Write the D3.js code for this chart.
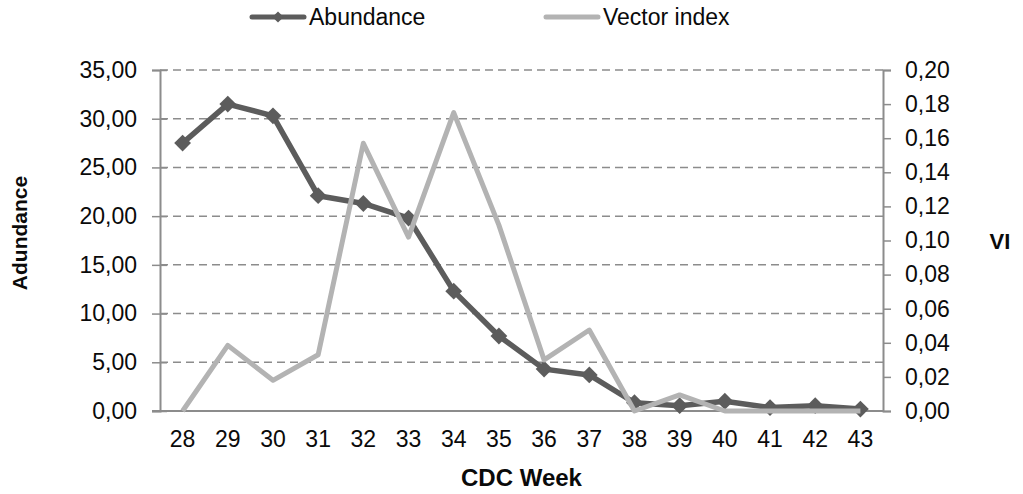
<!DOCTYPE html>
<html>
<head>
<meta charset="utf-8">
<script src="https://cdn.jsdelivr.net/npm/d3@7"></script>
<style>
  html, body { margin: 0; padding: 0; background: #fff; }
  svg { display: block; font-family: "Liberation Sans", Arial, sans-serif; }
</style>
</head>
<body>
<svg id="chart" width="1023" height="494"></svg>
<script>
// chart data
const weeks = ["28", "29", "30", "31", "32", "33", "34", "35", "36", "37", "38", "39", "40", "41", "42", "43"];
const abundance = [27.5, 31.5, 30.3, 22.1, 21.3, 19.8, 12.3, 7.7, 4.3, 3.7, 0.85, 0.55, 1.0, 0.35, 0.55, 0.2];
const vectorIndex = [0, 0.0385, 0.018, 0.033, 0.157, 0.102, 0.175, 0.109, 0.030, 0.0475, 0, 0.0094, 0, 0, 0, 0];
const leftTicks = [0, 5, 10, 15, 20, 25, 30, 35];
const rightTicks = [0, 0.02, 0.04, 0.06, 0.08, 0.10, 0.12, 0.14, 0.16, 0.18, 0.20];

const svg = d3.select("#chart");

const plotLeft = 160, plotRight = 883, plotTop = 70, plotBottom = 411;
const darkColor = "#5c5c5c";
const lightColor = "#b3b3b3";
const axisColor = "#8c8c8c";
const textColor = "#0a0a0a";

const x = d3.scaleBand().domain(weeks).range([plotLeft, plotRight]);
const yL = d3.scaleLinear().domain([0, 35]).range([plotBottom, plotTop]);
const yR = d3.scaleLinear().domain([0, 0.20]).range([plotBottom, plotTop]);
const cx = w => x(w) + x.bandwidth() / 2;

const comma = f => v => d3.format(f)(v).replace(".", ",");

// gridlines (dashed)
svg.append("g")
  .selectAll("line")
  .data(leftTicks.filter(t => t > 0))
  .enter()
  .append("line")
  .attr("x1", plotLeft)
  .attr("x2", plotRight)
  .attr("y1", d => yL(d))
  .attr("y2", d => yL(d))
  .attr("stroke", axisColor)
  .attr("stroke-width", 1.5)
  .attr("stroke-dasharray", "8,5");

// left axis
const gL = svg.append("g")
  .attr("transform", `translate(${plotLeft},0)`)
  .call(d3.axisLeft(yL).tickValues(leftTicks).tickSize(8).tickPadding(15).tickFormat(comma(".2f")));
// Excel-style crossing ticks
gL.selectAll(".tick line").attr("x1", 7);

// right axis
const gR = svg.append("g")
  .attr("transform", `translate(${plotRight},0)`)
  .call(d3.axisRight(yR).tickValues(rightTicks).tickSize(8).tickPadding(14).tickFormat(comma(".2f")));

// bottom axis
const gB = svg.append("g")
  .attr("transform", `translate(0,${plotBottom})`)
  .call(d3.axisBottom(x).tickSize(0).tickPadding(20));

[gL, gR, gB].forEach(g => {
  g.attr("font-family", null).attr("font-size", null);
  g.selectAll("path.domain").attr("stroke", axisColor).attr("stroke-width", 2);
  g.selectAll(".tick line").attr("stroke", axisColor).attr("stroke-width", 1.5);
  g.selectAll("text")
    .style("font-size", "23px")
    .attr("fill", textColor);
});
gB.select("path.domain").attr("d", `M${plotLeft - 8},0H${plotRight}`);

// abundance line
const lineL = d3.line()
  .x((d, i) => cx(weeks[i]))
  .y(d => yL(d));

svg.append("path")
  .datum(abundance)
  .attr("fill", "none")
  .attr("stroke", darkColor)
  .attr("stroke-width", 5.5)
  .attr("stroke-linejoin", "round")
  .attr("d", lineL);

const diamond = d3.symbol().type(d3.symbolDiamond2).size(180);

svg.append("g")
  .selectAll("path")
  .data(abundance)
  .enter()
  .append("path")
  .attr("transform", (d, i) => `translate(${cx(weeks[i])},${yL(d)})`)
  .attr("d", diamond)
  .attr("fill", darkColor);

// vector index line
const lineR = d3.line()
  .x((d, i) => cx(weeks[i]))
  .y(d => yR(d));

svg.append("path")
  .datum(vectorIndex)
  .attr("fill", "none")
  .attr("stroke", lightColor)
  .attr("stroke-width", 5)
  .attr("stroke-linejoin", "round")
  .attr("d", lineR);

// axis titles
svg.append("text")
  .attr("transform", "translate(27,233) rotate(-90)")
  .attr("text-anchor", "middle")
  .style("font-size", "21px")
  .attr("font-weight", "bold")
  .attr("fill", textColor)
  .text("Adundance");

svg.append("text")
  .attr("x", 1000)
  .attr("y", 249)
  .attr("text-anchor", "middle")
  .style("font-size", "22px")
  .attr("font-weight", "bold")
  .attr("fill", textColor)
  .text("VI");

svg.append("text")
  .attr("x", (plotLeft + plotRight) / 2)
  .attr("y", 486)
  .attr("text-anchor", "middle")
  .style("font-size", "24px")
  .attr("font-weight", "bold")
  .attr("fill", textColor)
  .text("CDC Week");

// legend
const legend = svg.append("g").attr("transform", "translate(0,17)");
const legendItems = [
  { name: "Abundance", color: darkColor, x: 252, marker: true },
  { name: "Vector index", color: lightColor, x: 546, marker: false }
];
legendItems.forEach(item => {
  legend.append("line")
    .attr("x1", item.x)
    .attr("x2", item.x + 52)
    .attr("y1", 0)
    .attr("y2", 0)
    .attr("stroke", item.color)
    .attr("stroke-width", 5)
    .attr("stroke-linecap", "round");
  if (item.marker) {
    legend.append("path")
      .attr("transform", `translate(${item.x + 26},0)`)
      .attr("d", d3.symbol().type(d3.symbolDiamond2).size(80))
      .attr("fill", item.color);
  }
  legend.append("text")
    .attr("x", item.x + 57)
    .attr("y", 0)
    .attr("dy", "0.35em")
    .style("font-size", "23px")
    .attr("fill", textColor)
    .text(item.name);
});
</script>
</body>
</html>
